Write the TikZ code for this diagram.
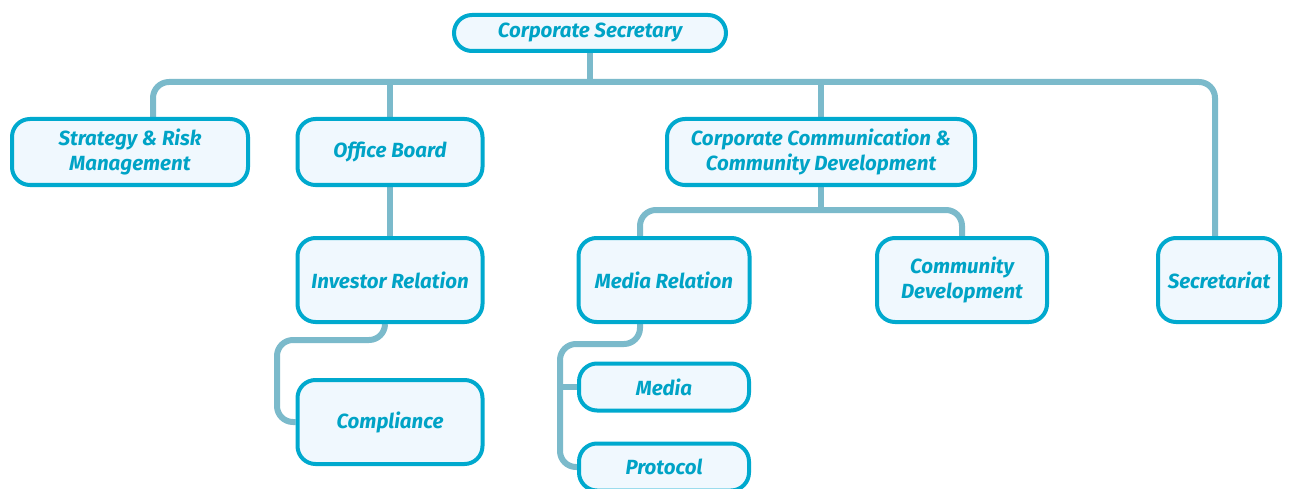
\documentclass[tikz,border=0pt]{standalone}
\usepackage{fontspec}
\setmainfont{Fira Sans}
\usetikzlibrary{backgrounds}
\definecolor{boxline}{HTML}{00A9CE}
\definecolor{boxfill}{HTML}{F0F8FE}
\definecolor{boxtext}{HTML}{00A3C6}
\definecolor{linkline}{HTML}{7BBACB}
\begin{document}
\begin{tikzpicture}[x=1pt,y=-1pt,
    unit/.style={draw=boxline, fill=boxfill, line width=4pt, rounded corners=18pt,
      text=boxtext, font=\fontsize{20.5}{25}\selectfont\bfseries\itshape,
      align=center, inner sep=0pt},
    link/.style={draw=linkline, line width=6pt, rounded corners=16pt}]
    \useasboundingbox (0,0) rectangle (1289,489);
    %Units
    \node[unit, minimum width=272pt, minimum height=36pt] (top) at (590,33) {Corporate Secretary};
    \node[unit, minimum width=236pt, minimum height=66pt] (strat) at (130,152) {Strategy \& Risk\\Management};
    \node[unit, minimum width=185pt, minimum height=66pt] (board) at (390,152) {Office Board};
    \node[unit, minimum width=308pt, minimum height=66pt] (comm) at (821,152) {Corporate Communication \&\\Community Development};
    \node[unit, minimum width=185pt, minimum height=84pt] (investor) at (390,280) {Investor Relation};
    \node[unit, minimum width=171pt, minimum height=84pt] (mediarel) at (664,280) {Media Relation};
    \node[unit, minimum width=170pt, minimum height=84pt] (commdev) at (962,280) {Community\\Development};
    \node[unit, minimum width=122pt, minimum height=84pt] (secr) at (1219,280) {Secretariat};
    \node[unit, minimum width=185pt, minimum height=84pt] (compliance) at (390,422) {Compliance};
    \node[unit, minimum width=170pt, minimum height=47pt] (media) at (664,387) {Media};
    \node[unit, minimum width=170pt, minimum height=47pt] (protocol) at (664,467) {Protocol};
    %Forks
    \coordinate (bus) at (590,82);
    \coordinate (bus2) at (821,210);
    \coordinate (cfork) at (277,340);
    \coordinate (mfork) at (560,387);
    %Links
    \begin{scope}[on background layer]
    \draw[link] ([xshift=23pt]strat.north) |- (bus) -| ([xshift=-4pt]secr.north);
    \draw[link] (top.south) -- (bus);
    \draw[link] (bus -| board.north) -- (board.north);
    \draw[link] (bus -| comm.north) -- (comm.north);
    \draw[link] (board) -- (investor);
    \draw[link] (comm.south) -- (bus2);
    \draw[link] ([xshift=-24pt]mediarel.north) |- (bus2) -| (commdev.north);
    \draw[link] ([xshift=-5pt]investor.south) |- (cfork) |- (compliance.west);
    \draw[link] ([xshift=-24pt]mediarel.south) -- ++(0,20) -| (mfork) |- (protocol.west);
    \draw[link] (mfork) -- (media.west);
    \end{scope}
\end{tikzpicture}
\end{document}
